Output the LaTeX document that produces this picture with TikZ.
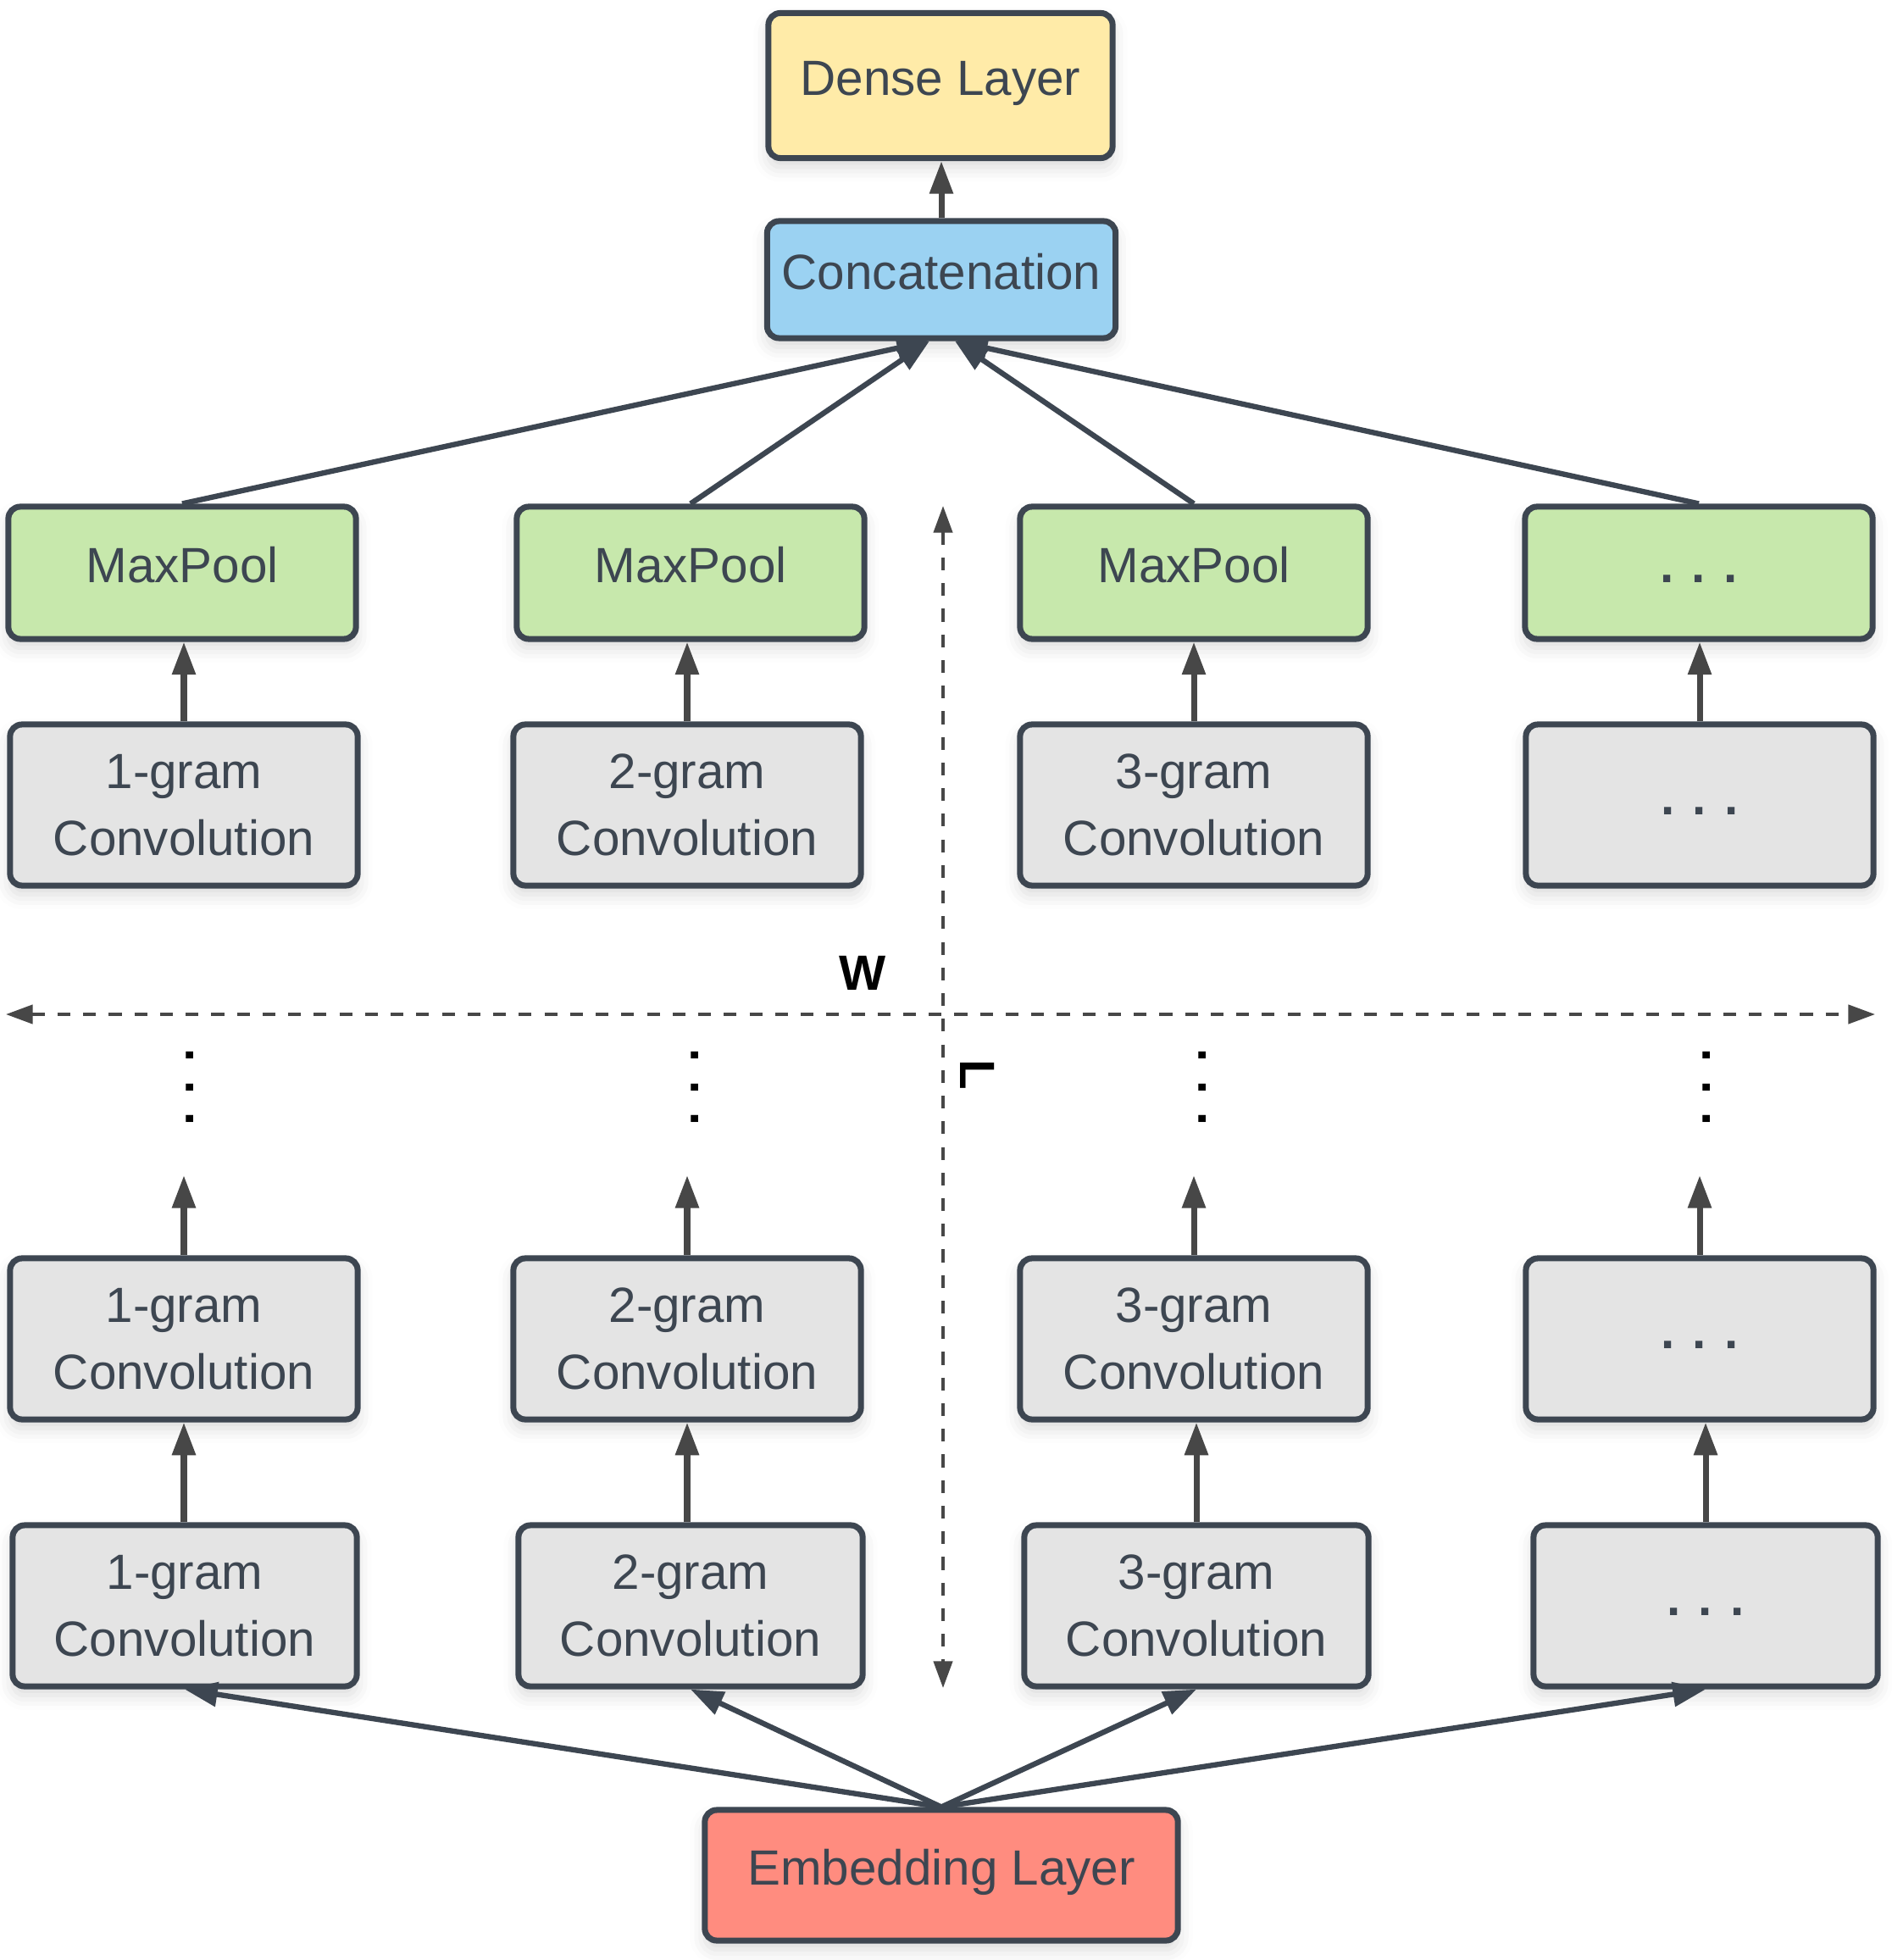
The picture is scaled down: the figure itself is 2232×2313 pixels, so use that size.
\documentclass[tikz,border=0pt]{standalone}
\usepackage{fontspec}
\setmainfont{Liberation Sans}
\usepackage{xcolor}
\usepackage{tikz}
\usetikzlibrary{arrows.meta,shadows.blur}

\definecolor{slate}{HTML}{3D4651}
\definecolor{arrowgray}{HTML}{474747}
\definecolor{denseyellow}{HTML}{FFEBA8}
\definecolor{concatblue}{HTML}{9BD2F2}
\definecolor{poolgreen}{HTML}{C7E8AC}
\definecolor{convgray}{HTML}{E4E4E4}
\definecolor{embedred}{HTML}{FF8C7F}

\begin{document}
\begin{tikzpicture}[x=0.01cm,y=-0.01cm,
  netbox/.style={draw=slate,line width=2pt,rounded corners=4pt,align=center,
    text=slate,font=\fontsize{16.6}{22.5}\selectfont,minimum width=4.1cm,
    blur shadow={shadow xshift=0pt,shadow yshift=-3pt,shadow blur radius=5pt,
      shadow opacity=15}},
  oneline/.style={text height=12.4pt,text depth=5.7pt},
  convbox/.style={netbox,fill=convgray,minimum height=1.9cm},
  poolbox/.style={netbox,oneline,fill=poolgreen,minimum height=1.56cm},
  feed/.style={slate,line width=1.8pt,-{Triangle[length=11pt,width=8pt]}},
  uparrow/.style={arrowgray,line width=2pt,-{Triangle[length=11pt,width=7.6pt]}},
  dimline/.style={arrowgray,line width=1.1pt,dash pattern=on 4.3pt off 4.3pt,
    {Triangle[length=9pt,width=6.3pt]}-{Triangle[length=9pt,width=6.3pt]}},
  vdots/.style={rotate=90,font=\bfseries\fontsize{16.6}{22}\selectfont},
  dimlabel/.style={font=\bfseries\fontsize{16.6}{20}\selectfont}]
  \useasboundingbox (0,0) rectangle (2232,2313);

  % width and length of the input
  \coordinate (wleft) at (7,1197);
  \coordinate (wright) at (2213,1197);
  \coordinate (ltop) at (1113,597);
  \coordinate (lbottom) at (1113,1992);
  \draw[dimline] (wleft) -- (wright);
  \draw[dimline] (ltop) -- (lbottom);
  \node[dimlabel] (wlabel) at (1018,1148) {W};
  \node[dimlabel,rotate=-90] (llabel) at (1154,1268) {L};

  % top of the network
  \node[netbox,oneline,fill=denseyellow,minimum width=4.06cm,minimum height=1.71cm]
    (dense) at (1110,101) {Dense Layer};
  \node[netbox,oneline,fill=concatblue,minimum width=4.11cm,minimum height=1.38cm]
    (concat) at (1111,330) {Concatenation};

  \node[poolbox] (mp1) at (215,676) {MaxPool};
  \node[poolbox] (mp2) at (815,676) {MaxPool};
  \node[poolbox] (mp3) at (1409,676) {MaxPool};
  \node[poolbox] (mp4) at (2005,676) {\bfseries. . .};

  \node[convbox] (ca1) at (217,950) {1-gram\\Convolution};
  \node[convbox] (ca2) at (811,950) {2-gram\\Convolution};
  \node[convbox] (ca3) at (1409,950) {3-gram\\Convolution};
  \node[convbox,oneline] (ca4) at (2006,950) {\bfseries. . .};

  \node[vdots] (dots1) at (224,1283) {. . .};
  \node[vdots] (dots2) at (820,1283) {. . .};
  \node[vdots] (dots3) at (1419,1283) {. . .};
  \node[vdots] (dots4) at (2014,1283) {. . .};

  % bottom of the network
  \node[convbox] (cb1) at (217,1580) {1-gram\\Convolution};
  \node[convbox] (cb2) at (811,1580) {2-gram\\Convolution};
  \node[convbox] (cb3) at (1409,1580) {3-gram\\Convolution};
  \node[convbox,oneline] (cb4) at (2006,1580) {\bfseries. . .};

  \node[convbox,minimum width=4.06cm] (cc1) at (218,1895) {1-gram\\Convolution};
  \node[convbox,minimum width=4.06cm] (cc2) at (815,1895) {2-gram\\Convolution};
  \node[convbox,minimum width=4.06cm] (cc3) at (1412,1895) {3-gram\\Convolution};
  \node[convbox,oneline,minimum width=4.06cm] (cc4) at (2013,1895) {\bfseries. . .};

  \node[netbox,oneline,fill=embedred,minimum width=5.58cm,minimum height=1.54cm]
    (emb) at (1111,2213) {Embedding Layer};

  \coordinate (top1) at (217,1387);
  \coordinate (top2) at (811,1387);
  \coordinate (top3) at (1409,1387);
  \coordinate (top4) at (2006,1387);

  % connectors
  \draw[uparrow] (concat.north) -- (concat.north |- dense.south);
  \draw[feed] (mp1.north) -- ([xshift=-0.14cm]concat.south);
  \draw[feed] (mp2.north) -- ([xshift=-0.14cm]concat.south);
  \draw[feed] (mp3.north) -- ([xshift=0.16cm]concat.south);
  \draw[feed] (mp4.north) -- ([xshift=0.16cm]concat.south);

  \draw[uparrow] (ca1.north) -- (ca1.north |- mp1.south);
  \draw[uparrow] (ca2.north) -- (ca2.north |- mp2.south);
  \draw[uparrow] (ca3.north) -- (ca3.north |- mp3.south);
  \draw[uparrow] (ca4.north) -- (ca4.north |- mp4.south);

  \draw[uparrow] (cb1.north) -- (top1);
  \draw[uparrow] (cb2.north) -- (top2);
  \draw[uparrow] (cb3.north) -- (top3);
  \draw[uparrow] (cb4.north) -- (top4);

  \draw[uparrow] (cb1.south |- cc1.north) -- (cb1.south);
  \draw[uparrow] (cb2.south |- cc2.north) -- (cb2.south);
  \draw[uparrow] (cc3.north) -- (cc3.north |- cb3.south);
  \draw[uparrow] (cc4.north) -- (cc4.north |- cb4.south);

  \draw[feed] (emb.north) -- (cc1.south);
  \draw[feed] (emb.north) -- (cc2.south);
  \draw[feed] (emb.north) -- (cc3.south);
  \draw[feed] (emb.north) -- (cc4.south);
\end{tikzpicture}
\end{document}
